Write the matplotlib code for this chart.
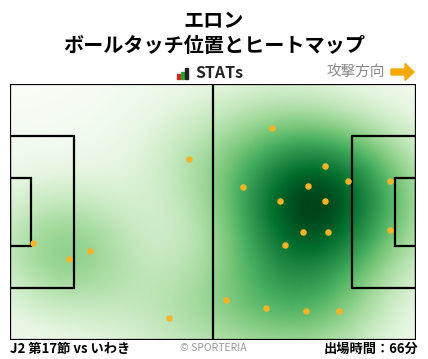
import numpy as np
import matplotlib
matplotlib.use("Agg")
import matplotlib.pyplot as plt
from matplotlib.patches import Rectangle, FancyArrow

plt.rcParams['font.family'] = ['Noto Sans CJK JP', 'DejaVu Sans']

title_name = "エロン"
title_sub = "ボールタッチ位置とヒートマップ"
footer_left = "J2 第17節 vs いわき"
footer_right = "出場時間：66分"
credit = "© SPORTERIA"
direction_label = "攻撃方向"

# touch positions in pitch metres (x: 0-105 left->right, y: 0-68 top->bottom)
touch_x = [46.4, 6.0, 15.3, 20.7, 41.2, 67.8, 60.3, 81.5, 87.4, 98.3, 77.1,
           69.9, 81.5, 75.8, 82.3, 71.2, 98.3, 55.9, 66.3, 76.6, 85.1]
touch_y = [20.0, 42.3, 46.6, 44.4, 62.2, 11.8, 27.4, 21.9, 25.8, 25.8, 27.2,
           31.2, 31.2, 39.4, 39.4, 42.8, 38.9, 57.4, 59.6, 60.4, 60.4]

L, W = 105.0, 68.0

fig = plt.figure(figsize=(4.28, 3.59), dpi=100)
ax = fig.add_axes([10/428, 19/359, 406/428, 256/359])

# KDE heatmap
gx = np.linspace(0, L, 300)
gy = np.linspace(0, W, 200)
GX, GY = np.meshgrid(gx, gy)
bw = 12.5
Z = np.zeros_like(GX)
for px, py in zip(touch_x, touch_y):
    Z += np.exp(-((GX - px) ** 2 + (GY - py) ** 2) / (2 * bw ** 2))
Z = Z / Z.max()
Z = Z ** 0.85
ax.imshow(Z, extent=[0, L, W, 0], cmap='Greens', vmin=0, vmax=1.0,
          interpolation='bilinear', aspect='auto', zorder=0)

lw = 1.6
lc = 'black'
ax.add_patch(Rectangle((0, 0), L, W, fill=False, lw=lw, ec=lc, zorder=2))
ax.plot([L/2, L/2], [0, W], color=lc, lw=lw, zorder=2)
ax.add_patch(Rectangle((0, (W-40.32)/2), 16.5, 40.32, fill=False, lw=lw, ec=lc, zorder=2))
ax.add_patch(Rectangle((L-16.5, (W-40.32)/2), 16.5, 40.32, fill=False, lw=lw, ec=lc, zorder=2))
ax.add_patch(Rectangle((0, (W-18.32)/2), 5.5, 18.32, fill=False, lw=lw, ec=lc, zorder=2))
ax.add_patch(Rectangle((L-5.5, (W-18.32)/2), 5.5, 18.32, fill=False, lw=lw, ec=lc, zorder=2))

ax.scatter(touch_x, touch_y, s=22, color='#F9B428', zorder=3, linewidths=0)

ax.set_xlim(0, L)
ax.set_ylim(W, 0)
ax.axis('off')

fig.text(0.5, 1 - 21/359, title_name, ha='center', va='center', fontsize=14.5, fontweight='bold')
fig.text(0.5, 1 - 46/359, title_sub, ha='center', va='center', fontsize=14.5, fontweight='bold')

# STATs logo
fig.patches.append(Rectangle((177/428, 1 - 79/359), 3/428, 5/359, transform=fig.transFigure, color='#d62728', figure=fig))
fig.patches.append(Rectangle((181/428, 1 - 79/359), 3/428, 7/359, transform=fig.transFigure, color='#2ca02c', figure=fig))
fig.patches.append(Rectangle((185/428, 1 - 79/359), 3/428, 11/359, transform=fig.transFigure, color='#222222', figure=fig))
fig.text(195/428, 1 - 73/359, "STATs", ha='left', va='center', fontsize=11.5, fontweight='bold', color='#222222')

fig.text(385/428, 1 - 72/359, direction_label, ha='right', va='center', fontsize=10.5, color='#888888')
fig.patches.append(FancyArrow(391/428, 1 - 72/359, 14/428, 0, width=6/359, head_width=17/359,
                              head_length=9/428, length_includes_head=False,
                              transform=fig.transFigure, color='#F5A800', figure=fig))

fig.text(10/428, 1 - 349/359, footer_left, ha='left', va='center', fontsize=9.5, fontweight='bold')
fig.text(213/428, 1 - 348/359, credit, ha='center', va='center', fontsize=7.5, color='#999999')
fig.text(418/428, 1 - 349/359, footer_right, ha='right', va='center', fontsize=9.5, fontweight='bold')

fig.savefig('out.png', dpi=100)
